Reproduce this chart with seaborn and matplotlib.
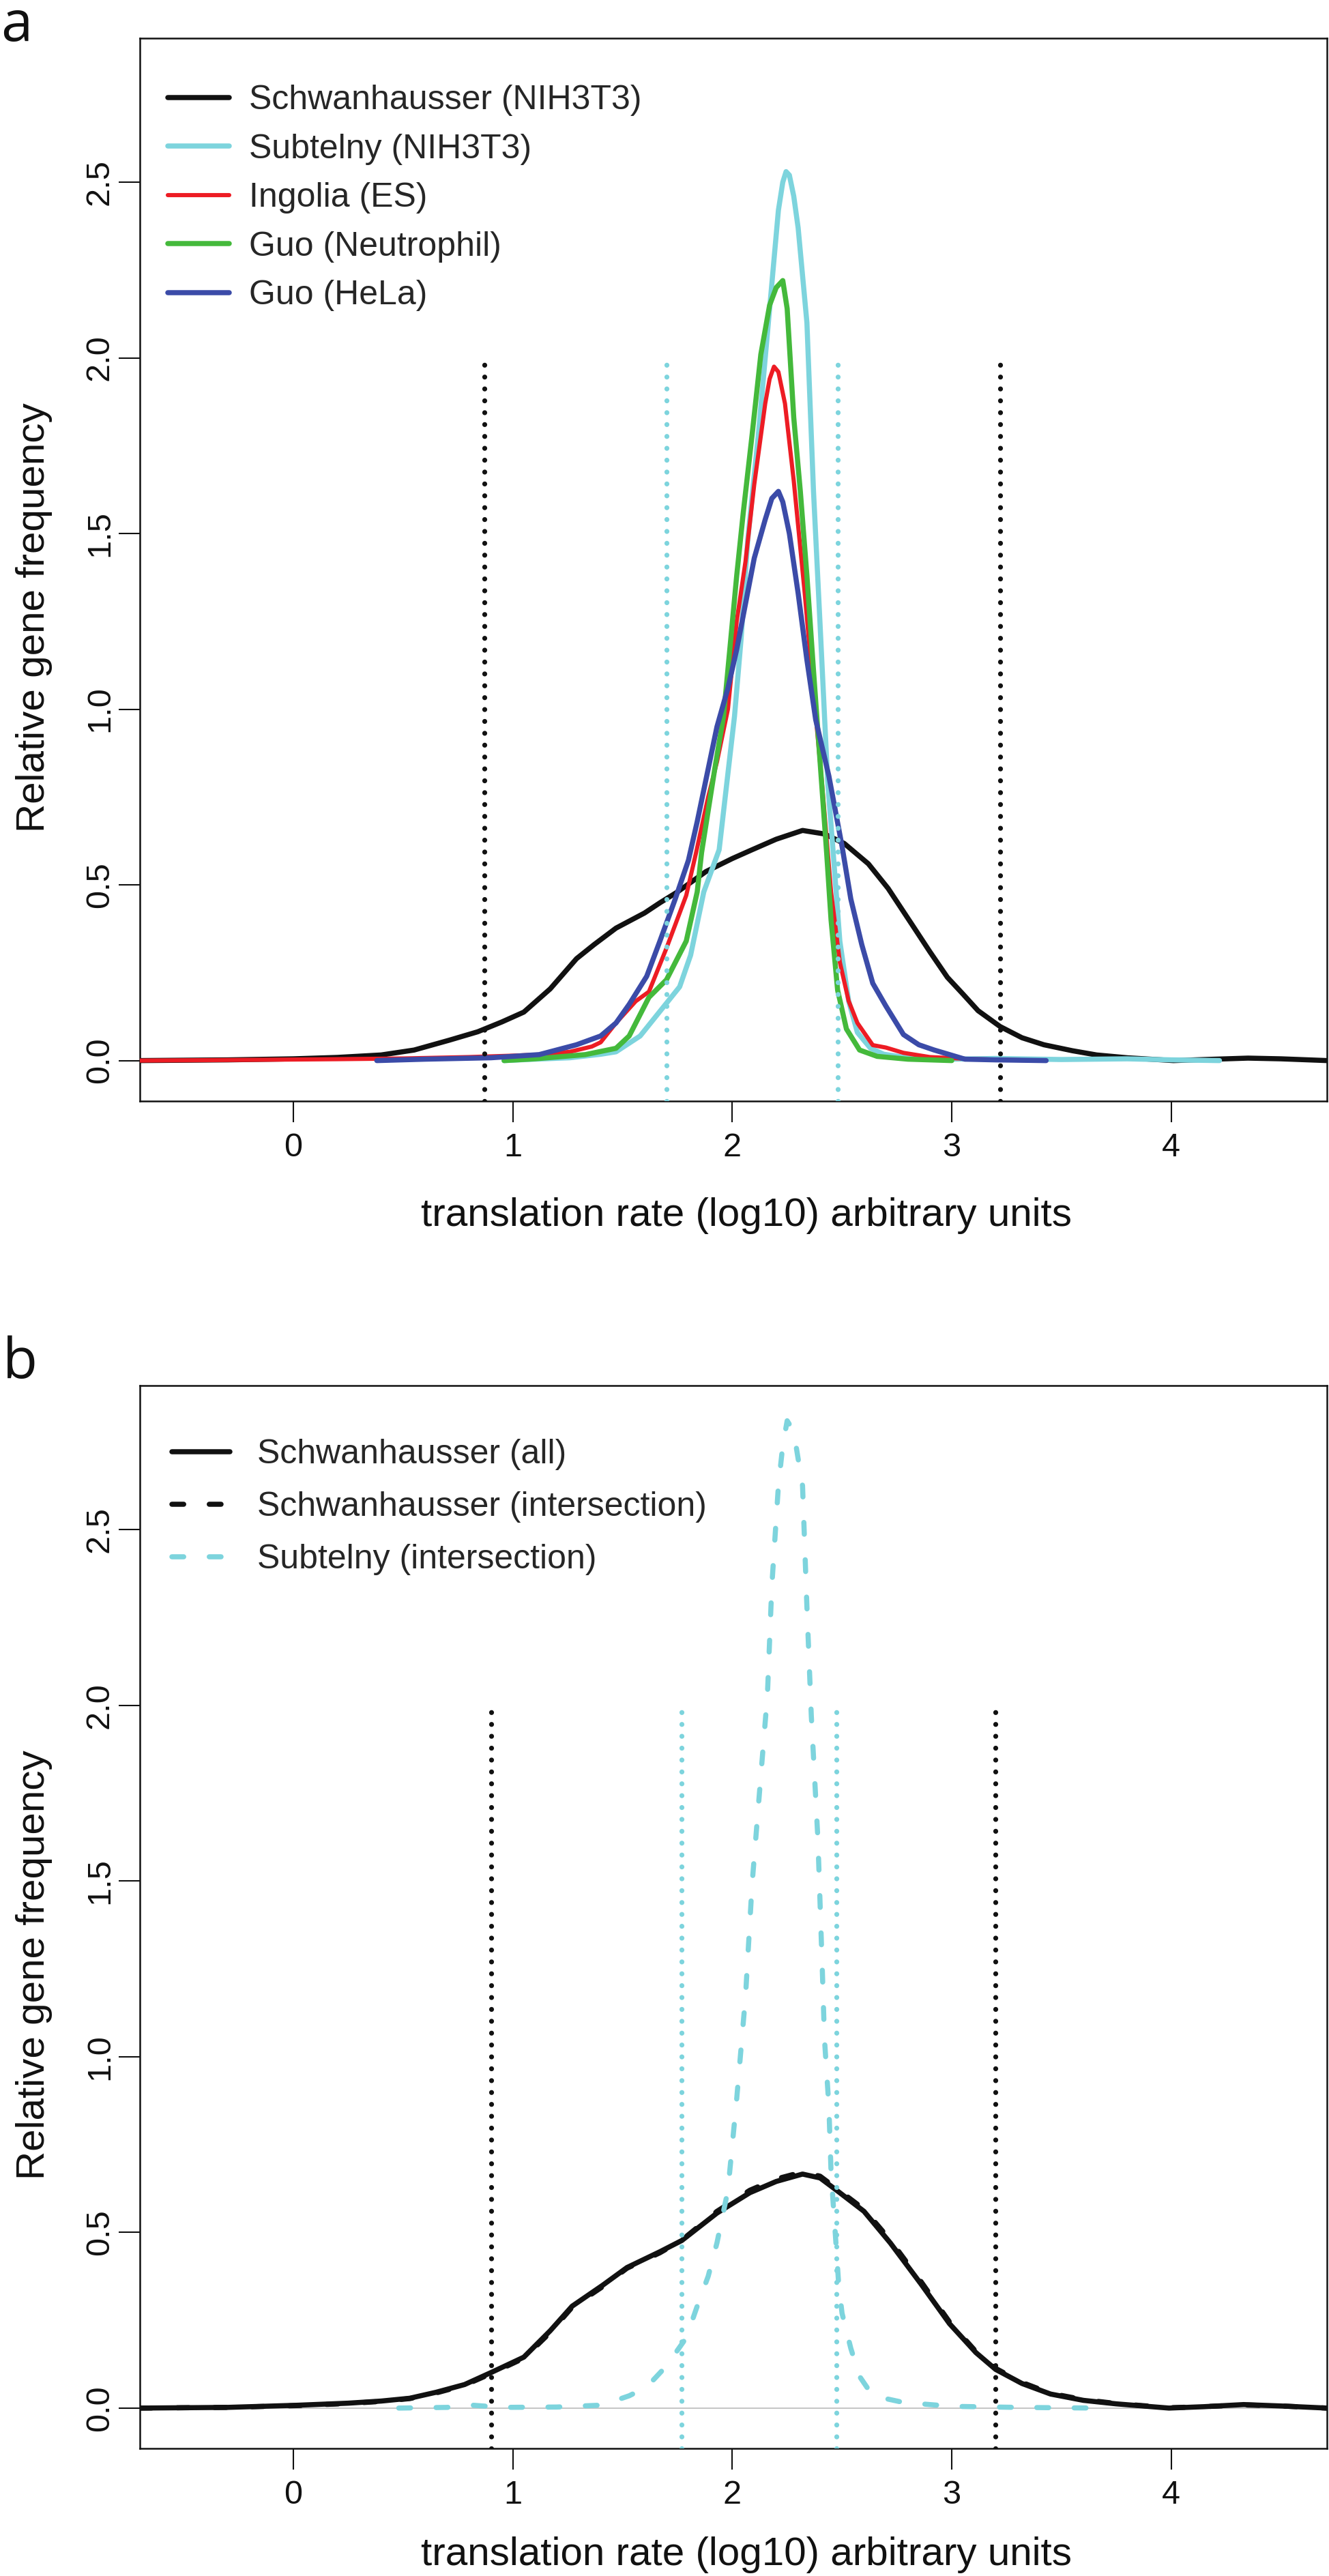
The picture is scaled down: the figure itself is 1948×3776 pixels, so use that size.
import numpy as np
import pandas as pd
import matplotlib
matplotlib.use("Agg")
import matplotlib.pyplot as plt
import seaborn as sns

# ---- panel a: density curves (x = log10 translation rate, y = relative frequency)
schw_a_x = [-0.70, -0.30, 0.00, 0.20, 0.40, 0.55, 0.71, 0.84, 0.95, 1.05, 1.17, 1.29, 1.37, 1.47,
            1.60, 1.67, 1.75, 1.88, 2.00, 2.09, 2.20, 2.32, 2.42, 2.51, 2.62, 2.71, 2.82, 2.90,
            2.98, 3.05, 3.12, 3.22, 3.32, 3.42, 3.55, 3.66, 3.80, 4.01, 4.20, 4.35, 4.50, 4.71]
schw_a_y = [0.000, 0.002, 0.005, 0.009, 0.016, 0.030, 0.058, 0.082, 0.110, 0.138, 0.204, 0.290,
            0.330, 0.377, 0.420, 0.449, 0.480, 0.538, 0.575, 0.600, 0.630, 0.655, 0.645, 0.618,
            0.560, 0.490, 0.386, 0.310, 0.237, 0.190, 0.142, 0.097, 0.065, 0.045, 0.028, 0.016,
            0.008, 0.000, 0.004, 0.007, 0.005, 0.000]

subt_a_x = [0.96, 1.10, 1.26, 1.40, 1.47, 1.58, 1.67, 1.76, 1.81, 1.87, 1.94, 2.01, 2.04, 2.07,
            2.12, 2.17, 2.21, 2.23, 2.245, 2.26, 2.28, 2.30, 2.34, 2.37, 2.40, 2.435, 2.46, 2.49,
            2.53, 2.57, 2.63, 2.69, 2.80, 3.00, 3.20, 3.50, 3.80, 4.00, 4.22]
subt_a_y = [0.000, 0.004, 0.008, 0.018, 0.025, 0.070, 0.140, 0.210, 0.300, 0.480, 0.600, 0.980,
            1.200, 1.480, 1.790, 2.140, 2.420, 2.500, 2.530, 2.520, 2.460, 2.370, 2.100, 1.620,
            1.240, 0.790, 0.590, 0.340, 0.170, 0.080, 0.035, 0.018, 0.008, 0.004, 0.006, 0.003,
            0.005, 0.002, 0.000]

ingo_a_x = [-0.70, -0.20, 0.20, 0.50, 0.80, 1.00, 1.12, 1.26, 1.36, 1.40, 1.47, 1.56, 1.62, 1.70,
            1.79, 1.835, 1.89, 1.93, 1.98, 2.02, 2.06, 2.10, 2.15, 2.17, 2.19, 2.21, 2.24, 2.28,
            2.33, 2.37, 2.41, 2.45, 2.49, 2.53, 2.57, 2.64, 2.70, 2.78, 2.90, 3.10, 3.40]
ingo_a_y = [0.000, 0.002, 0.004, 0.006, 0.010, 0.014, 0.017, 0.025, 0.040, 0.052, 0.107, 0.169,
            0.196, 0.320, 0.470, 0.592, 0.750, 0.850, 1.000, 1.250, 1.420, 1.640, 1.870, 1.940,
            1.975, 1.960, 1.870, 1.650, 1.330, 1.050, 0.780, 0.480, 0.280, 0.170, 0.107, 0.044,
            0.037, 0.022, 0.010, 0.004, 0.000]

guon_a_x = [0.96, 1.10, 1.33, 1.47, 1.53, 1.62, 1.70, 1.79, 1.84, 1.86, 1.92, 1.96, 2.02, 2.05,
            2.09, 2.13, 2.17, 2.20, 2.23, 2.25, 2.28, 2.31, 2.34, 2.37, 2.40, 2.43, 2.45, 2.48,
            2.52, 2.58, 2.66, 2.80, 3.00]
guon_a_y = [0.000, 0.005, 0.017, 0.035, 0.070, 0.180, 0.230, 0.340, 0.480, 0.592, 0.830, 0.980,
            1.380, 1.560, 1.780, 2.010, 2.150, 2.200, 2.220, 2.140, 1.830, 1.620, 1.380, 1.110,
            0.850, 0.590, 0.400, 0.200, 0.090, 0.030, 0.012, 0.004, 0.000]

guoh_a_x = [0.38, 0.60, 0.90, 1.12, 1.29, 1.40, 1.47, 1.53, 1.61, 1.67, 1.74, 1.80, 1.84, 1.88,
            1.93, 1.98, 2.02, 2.06, 2.10, 2.15, 2.18, 2.21, 2.23, 2.26, 2.30, 2.34, 2.38, 2.44,
            2.50, 2.54, 2.59, 2.64, 2.70, 2.78, 2.85, 2.92, 3.06, 3.20, 3.43]
guoh_a_y = [0.000, 0.004, 0.008, 0.017, 0.045, 0.070, 0.107, 0.160, 0.240, 0.340, 0.460, 0.570,
            0.680, 0.800, 0.950, 1.060, 1.170, 1.300, 1.430, 1.540, 1.600, 1.620, 1.590, 1.500,
            1.330, 1.140, 0.970, 0.810, 0.610, 0.460, 0.330, 0.220, 0.155, 0.074, 0.045, 0.030,
            0.004, 0.002, 0.000]

# dotted cut-off lines in panel a
cut_black_a = [0.87, 3.22]
cut_cyan_a = [1.70, 2.48]

# ---- panel b
schw_b_x = [-0.70, -0.30, 0.015, 0.25, 0.40, 0.53, 0.65, 0.78, 0.907, 1.05, 1.17, 1.27, 1.41,
            1.52, 1.67, 1.77, 1.93, 2.08, 2.20, 2.32, 2.40, 2.475, 2.60, 2.72, 2.86, 2.99, 3.11,
            3.20, 3.32, 3.45, 3.60, 3.75, 3.99, 4.15, 4.33, 4.50, 4.71]
schw_all_y = [0.000, 0.002, 0.008, 0.014, 0.020, 0.028, 0.045, 0.067, 0.103, 0.145, 0.220, 0.290,
              0.350, 0.400, 0.445, 0.477, 0.555, 0.613, 0.645, 0.666, 0.655, 0.620, 0.560, 0.470,
              0.353, 0.240, 0.158, 0.110, 0.070, 0.040, 0.022, 0.012, 0.000, 0.004, 0.010, 0.006,
              0.000]
schw_int_y = [0.000, 0.002, 0.007, 0.013, 0.019, 0.027, 0.043, 0.065, 0.100, 0.142, 0.215, 0.287,
              0.346, 0.398, 0.442, 0.478, 0.560, 0.620, 0.652, 0.672, 0.660, 0.625, 0.566, 0.478,
              0.360, 0.245, 0.161, 0.113, 0.073, 0.042, 0.024, 0.013, 0.001, 0.004, 0.009, 0.006,
              0.000]

subt_b_x = [0.48, 0.70, 0.82, 0.95, 1.20, 1.39, 1.46, 1.53, 1.61, 1.70, 1.79, 1.84, 1.89, 1.93,
            1.98, 2.02, 2.06, 2.09, 2.13, 2.16, 2.18, 2.21, 2.23, 2.25, 2.27, 2.29, 2.32, 2.34,
            2.36, 2.39, 2.41, 2.42, 2.44, 2.45, 2.47, 2.485, 2.50, 2.54, 2.58, 2.64, 2.78, 3.00,
            3.30, 3.66]
subt_b_y = [0.000, 0.002, 0.008, 0.002, 0.003, 0.008, 0.020, 0.035, 0.060, 0.120, 0.200, 0.290,
            0.375, 0.470, 0.620, 0.880, 1.170, 1.490, 1.800, 2.030, 2.340, 2.625, 2.740, 2.810,
            2.790, 2.740, 2.625, 2.280, 1.970, 1.620, 1.250, 1.050, 0.860, 0.670, 0.490, 0.350,
            0.270, 0.170, 0.090, 0.035, 0.016, 0.005, 0.002, 0.000]

cut_black_b = [0.90, 3.20]
cut_cyan_b = [1.77, 2.475]

x_ticks = [0, 1, 2, 3, 4]
y_ticks = [0.0, 0.5, 1.0, 1.5, 2.0, 2.5]

BLACK = "#111111"
CYAN = "#7dd4dd"
RED = "#ed1c24"
GREEN = "#44b93b"
BLUE = "#3b4ba8"

sns.set_theme(style="ticks")
plt.rcParams['font.family'] = ['Liberation Sans', 'DejaVu Sans']
plt.rcParams['axes.linewidth'] = 1.8

DOT = (0, (0.01, 2.4))
DASH = (0, (2.3, 5.0))

fig = plt.figure(figsize=(19.48, 37.76), dpi=100)
ax_a = fig.add_axes([0.1052, 0.5726, 0.8933, 0.4126])
ax_b = fig.add_axes([0.1052, 0.0495, 0.8933, 0.4126])


def curve(ax, x, y, color, lw, label, ls="-", z=2):
    df = pd.DataFrame({"x": x, "y": y})
    sns.lineplot(data=df, x="x", y="y", ax=ax, color=color, linewidth=lw, label=label,
                 estimator=None, sort=False, linestyle=ls, zorder=z,
                 solid_capstyle="round", dash_capstyle="round")


def cutoffs(ax, xs, color, ylo):
    for xv in xs:
        ax.plot([xv, xv], [ylo, 2.0], color=color, linewidth=5.2, linestyle=DOT,
                dash_capstyle="round", zorder=5)


def style_axes(ax, xlab_y):
    ax.set_xlim(-0.70, 4.71)
    ax.set_ylim(-0.115, 2.91)
    ax.set_xticks(x_ticks)
    ax.set_xticklabels([str(t) for t in x_ticks])
    ax.set_yticks(y_ticks)
    ax.set_yticklabels([f"{t:.1f}" for t in y_ticks])
    ax.tick_params(axis="both", direction="out", length=22, width=1.5, labelsize=35,
                   colors=BLACK)
    ax.tick_params(axis="x", pad=11)
    ax.tick_params(axis="y", pad=4, labelrotation=90)
    for lab in ax.get_yticklabels():
        lab.set_va("center")
    for sp in ax.spines.values():
        sp.set_visible(True)
        sp.set_color(BLACK)
        sp.set_linewidth(1.8)
    ax.set_xlabel("translation rate (log10) arbitrary units", fontsize=42, color=BLACK)
    ax.set_ylabel("Relative gene frequency", fontsize=42, color=BLACK)
    ax.xaxis.set_label_coords(0.511, xlab_y)
    ax.xaxis.label.set_va("center")
    ax.yaxis.set_label_coords(-0.089, 0.455)
    ax.yaxis.label.set_va("center")
    ax.grid(False)


# panel a
curve(ax_a, schw_a_x, schw_a_y, BLACK, 5.4, "Schwanhausser (NIH3T3)", z=2)
curve(ax_a, subt_a_x, subt_a_y, CYAN, 5.4, "Subtelny (NIH3T3)", z=3)
curve(ax_a, ingo_a_x, ingo_a_y, RED, 4.4, "Ingolia (ES)", z=4)
curve(ax_a, guon_a_x, guon_a_y, GREEN, 5.4, "Guo (Neutrophil)", z=4.5)
curve(ax_a, guoh_a_x, guoh_a_y, BLUE, 5.4, "Guo (HeLa)", z=4.8)
cutoffs(ax_a, cut_black_a, BLACK, -0.115)
cutoffs(ax_a, cut_cyan_a, CYAN, -0.115)
style_axes(ax_a, -0.108)
h, l = ax_a.get_legend_handles_labels()
ax_a.legend(h[:5], l[:5], loc="upper left", bbox_to_anchor=(0.0236, 0.956), frameon=False,
            fontsize=36, handlelength=1.8, handletextpad=0.58, labelspacing=0.51,
            borderaxespad=0, borderpad=0)

# panel b
ax_b.axhline(0, color="#b5b5b5", linewidth=1.1, zorder=1)
curve(ax_b, schw_b_x, schw_all_y, BLACK, 5.4, "Schwanhausser (all)", z=2)
curve(ax_b, schw_b_x, schw_int_y, BLACK, 5.4, "Schwanhausser (intersection)", ls=DASH, z=3)
curve(ax_b, subt_b_x, subt_b_y, CYAN, 5.4, "Subtelny (intersection)", ls=DASH, z=4)
cutoffs(ax_b, cut_black_b, BLACK, -0.115)
cutoffs(ax_b, cut_cyan_b, CYAN, -0.115)
style_axes(ax_b, -0.100)
h, l = ax_b.get_legend_handles_labels()
ax_b.legend(h[:3], l[:3], loc="upper left", bbox_to_anchor=(0.027, 0.950), frameon=False,
            fontsize=36, handlelength=1.7, handletextpad=0.8, labelspacing=0.62,
            borderaxespad=0, borderpad=0)

# panel letters
fig.text(0.0005, 1 - 60 / 3776, "a", fontsize=60, family="Open Sans", va="baseline",
         ha="left", color=BLACK)
fig.text(0.002, 1 - 2020 / 3776, "b", fontsize=60, family="Open Sans", va="baseline",
         ha="left", color=BLACK)

fig.savefig("out.png", dpi=100, facecolor="white")
